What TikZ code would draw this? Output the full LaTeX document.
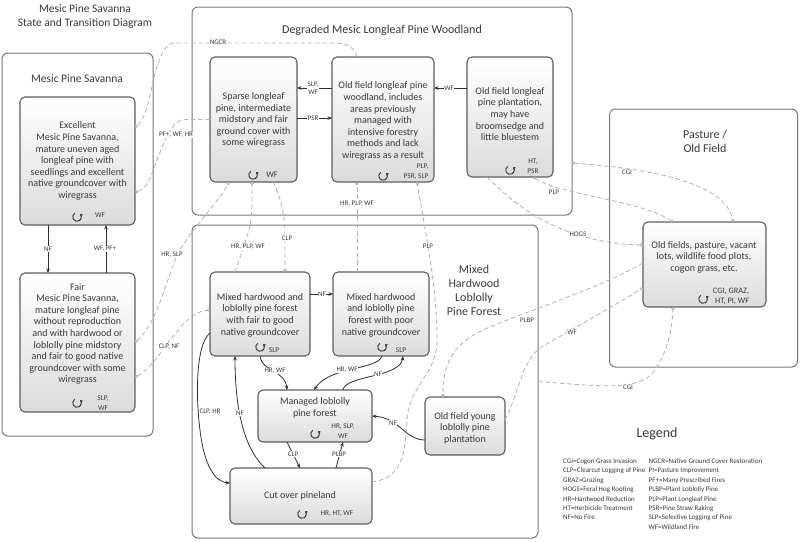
\documentclass[tikz,border=0pt]{standalone}
\usepackage{fontspec}
\setmainfont{Carlito}
\usetikzlibrary{arrows.meta,calc}
\definecolor{tx}{HTML}{3A3A3A}
\definecolor{bdr}{HTML}{5E5E5E}
\definecolor{gbd}{HTML}{787878}
\definecolor{dsh}{HTML}{B4B4B4}
\definecolor{sln}{HTML}{303030}
\begin{document}
\begin{tikzpicture}[x=1pt,y=-1pt,
  grp/.style={draw=gbd,line width=1pt,rounded corners=6pt,inner sep=0pt,outer sep=0pt},
  st/.style={draw=bdr,line width=1.1pt,rounded corners=5pt,inner sep=0pt,outer sep=0pt,top color=white,bottom color=black!14},
  stx/.style={align=center,text=tx,inner sep=0pt,font=\fontsize{10}{11.6}\selectfont},
  ttl/.style={align=center,text=tx,inner sep=0pt,font=\fontsize{11.5}{13.8}\selectfont},
  lbl/.style={fill=white,text=tx,inner sep=0.6pt,align=center,font=\fontsize{7}{7.8}\selectfont},
  llb/.style={text=tx,inner sep=0pt,align=center,font=\fontsize{7.3}{10.5}\selectfont},
  leg/.style={text=tx,inner sep=0pt,align=left,font=\fontsize{7}{9.4}\selectfont},
  dl/.style={draw=dsh,line width=0.85pt,dash pattern=on 4.5pt off 2.8pt,-{Circle[open,length=3.2pt,width=3.2pt]}},
  dlb/.style={draw=dsh,line width=0.85pt,dash pattern=on 4.5pt off 2.8pt,{Circle[open,length=3.2pt,width=3.2pt]}-{Circle[open,length=3.2pt,width=3.2pt]}},
  sl/.style={draw=sln,line width=0.8pt,-{Stealth[length=4.5pt,width=3.6pt]}},
  loopic/.pic={\draw[sln,line width=0.9pt,-{Stealth[length=3pt,width=3.4pt]}] (120:4.3pt) arc[start angle=120,end angle=405,radius=4.3pt];}
]
\useasboundingbox (0,0) rectangle (800,541);
% groups
\node[grp,minimum width=151,minimum height=383] (gmps) at (77.5,244.5) {};
\node[grp,minimum width=380,minimum height=208] (gdeg) at (382,111) {};
\node[grp,minimum width=346,minimum height=313] (gmix) at (365,381.5) {};
\node[grp,minimum width=188,minimum height=258] (gpas) at (703.5,238) {};
% titles
\node[ttl] (title) at (85,16.5) {Mesic Pine Savanna\\State and Transition Diagram};
\node[ttl] (tmps) at (77,79) {Mesic Pine Savanna};
\node[ttl,font=\fontsize{12}{14}\selectfont] (tdeg) at (382,30) {Degraded Mesic Longleaf Pine Woodland};
\node[ttl,font=\fontsize{12}{14}\selectfont] (tmix) at (474,290) {Mixed\\Hardwood\\Loblolly\\Pine Forest};
\node[ttl,font=\fontsize{12}{14}\selectfont] (tpas) at (705,141) {Pasture /\\Old Field};
\node[ttl,font=\fontsize{14}{16}\selectfont] (tleg) at (657,434) {Legend};
% states
\node[st,minimum width=115,minimum height=128] (ex) at (77.5,161) {};
\node[st,minimum width=115,minimum height=139] (fair) at (77.5,342.5) {};
\node[st,minimum width=87,minimum height=125] (sp) at (253.5,119.5) {};
\node[st,minimum width=102,minimum height=125] (wd) at (383,119.5) {};
\node[st,minimum width=86,minimum height=120] (pl) at (510,117) {};
\node[st,minimum width=100,minimum height=84] (mf) at (260,314) {};
\node[st,minimum width=96,minimum height=84] (mp) at (381,314) {};
\node[st,minimum width=114,minimum height=52] (mg) at (315,416) {};
\node[st,minimum width=80,minimum height=58] (yl) at (465,426) {};
\node[st,minimum width=142,minimum height=56] (co) at (301,496) {};
\node[st,minimum width=123,minimum height=85] (pa) at (704.5,264.5) {};
% state texts
\node[stx] (exT) at (77.5,161) {Excellent\\Mesic Pine Savanna,\\mature uneven aged\\longleaf pine with\\seedlings and excellent\\native groundcover with\\wiregrass};
\node[stx] (fairT) at (77.5,334) {Fair\\Mesic Pine Savanna,\\mature longleaf pine\\without reproduction\\and with hardwood or\\loblolly pine midstory\\and fair to good native\\groundcover with some\\wiregrass};
\node[stx] (spT) at (253.5,120) {Sparse longleaf\\pine, intermediate\\midstory and fair\\ground cover with\\some wiregrass};
\node[stx] (wdT) at (383,121) {Old field longleaf pine\\woodland, includes\\areas previously\\managed with\\intensive forestry\\methods and lack\\wiregrass as a result};
\node[stx] (plT) at (510,114) {Old field longleaf\\pine plantation,\\may have\\broomsedge and\\little bluestem};
\node[stx] (mfT) at (260,315) {Mixed hardwood and\\loblolly pine forest\\with fair to good\\native groundcover};
\node[stx] (mpT) at (381,315) {Mixed hardwood\\and loblolly pine\\forest with poor\\native groundcover};
\node[stx] (mgT) at (315,408) {Managed loblolly\\pine forest};
\node[stx] (ylT) at (465,428) {Old field young\\loblolly pine\\plantation};
\node[stx] (coT) at (300,496) {Cut over pineland};
\node[stx] (paT) at (704,257) {Old fields, pasture, vacant\\lots, wildlife food plots,\\cogon grass, etc.};
% self loops
\pic (lex) at (77,217) {loopic};
\pic (lfa) at (77,403) {loopic};
\pic (lsp) at (253,175) {loopic};
\pic (lwd) at (383,176) {loopic};
\pic (lpl) at (510,170) {loopic};
\pic (lmf) at (260,347) {loopic};
\pic (lmp) at (382,347) {loopic};
\pic (lmg) at (315,434) {loopic};
\pic (lco) at (302,514) {loopic};
\pic (lpa) at (703,299) {loopic};
\node[llb] (exL) at (100,215) {WF};
\node[llb] (faL) at (103,403) {SLP,\\WF};
\node[llb,font=\fontsize{8.5}{9}\selectfont] (spL) at (272,175) {WF};
\node[llb,align=right] (wdL) at (416,171.5) {PLP,\\PSR, SLP};
\node[llb] (plL) at (533,166) {HT,\\PSR};
\node[llb] (mfL) at (274,350) {SLP};
\node[llb] (mpL) at (401,350) {SLP};
\node[llb] (mgL) at (343,431) {HR, SLP,\\WF};
\node[llb] (coL) at (337,514) {HR, HT, WF};
\node[llb,align=right,font=\fontsize{8.3}{10}\selectfont] (paL) at (731,296) {CGI, GRAZ,\\HT, PI, WF};
% dashed transitions
\draw[dl] ([xshift=-26pt]wd.north) .. controls (354,45) and (345,43) .. (330,43) -- (175,43) .. controls (152,43) and (153,115) .. ([yshift=34pt]ex.east);
\draw[dl] (sp.west) -- (185,119.5) .. controls (172,119.5) and (165,140) .. (157,160) .. controls (150,180) and (145,190) .. ([yshift=-31pt]ex.east);
\draw[dlb] (fair.east) .. controls (160,320) and (168,270) .. (180,250) .. controls (195,225) and (220,200) .. ([xshift=-24.5pt]sp.south);
\draw[dlb] ([yshift=-34.5pt]fair.east) .. controls (160,365) and (180,312) .. ([yshift=4pt]mf.west);
\draw[dl] ([xshift=19.5pt]sp.south) .. controls (280,195) and (285,215) .. (285,235) -- ([xshift=25pt]mf.north);
\draw[dl] ([xshift=-25pt]mf.north) .. controls (242,250) and (252,230) .. (252,205) -- ([xshift=-1.5pt]sp.south);
\draw[dl] ([xshift=-24pt]mp.north) -- ([xshift=-26pt]wd.south);
\draw[dl] ([yshift=14pt]co.east) .. controls (400,478) and (405,460) .. (407,420) .. controls (409,385) and (437,375) .. (437,340) .. controls (437,285) and (425,230) .. ([xshift=34pt]wd.south);
\draw[dlb] ([yshift=-52pt]gdeg.east) .. controls (640,168) and (725,180) .. ([xshift=28.5pt]pa.north);
\draw[dlb] ([xshift=23pt]pl.south) .. controls (560,195) and (640,200) .. ([xshift=-31.5pt]pa.north);
\draw[dl] ([xshift=-23pt]pl.south) .. controls (515,205) and (560,243) .. ([yshift=19.5pt]pa.west);
\draw[dl] ([yshift=1.5pt]pa.west) .. controls (595,290) and (530,310) .. (495,325) .. controls (455,340) and (443,360) .. ([xshift=-22pt]yl.north);
\draw[dl] ([yshift=6pt]yl.east) .. controls (520,390) and (522,357) .. (545,345) .. controls (580,325) and (615,305) .. ([yshift=-23.5pt]pa.west);
\draw[dl] (gmix.east) .. controls (600,386) and (640,392) .. (655,370) .. controls (668,350) and (672,330) .. ([xshift=-31.5pt]pa.south);
% solid transitions
\draw[sl] ([xshift=-29.5pt]ex.south) -- ([xshift=-29.5pt]fair.north);
\draw[sl] ([xshift=28.5pt]fair.north) -- ([xshift=28.5pt]ex.south);
\draw[sl] ([yshift=31.5pt]wd.west) -- ([yshift=31.5pt]sp.east);
\draw[sl] ([yshift=1.5pt]sp.east) -- ([yshift=1.5pt]wd.west);
\draw[sl] ([yshift=29pt]pl.west) -- ([yshift=31.5pt]wd.east);
\draw[sl] ([yshift=20pt]mf.east) -- ([yshift=20pt]mp.west);
\draw[sl] (mf.south) .. controls (262,372) and (285,370) .. ([xshift=-28pt]mg.north);
\draw[sl] ([xshift=1pt]mp.south) .. controls (378,370) and (330,366) .. ([xshift=-1pt]mg.north);
\draw[sl] ([xshift=28pt]mg.north) .. controls (345,375) and (400,378) .. ([xshift=22pt]mp.south);
\draw[sl] ([yshift=-14pt]yl.west) .. controls (405,440) and (400,418) .. (mg.east);
\draw[sl] ([xshift=-28pt]mg.south) -- ([xshift=-1pt]co.north);
\draw[sl] ([xshift=35pt]co.north) -- ([xshift=28pt]mg.south);
\draw[sl] ([yshift=-19pt]mf.west) .. controls (195,345) and (196,400) .. (200,430) .. controls (204,465) and (215,482) .. ([yshift=13pt]co.west);
\draw[sl] ([xshift=-36pt]co.north) .. controls (248,452) and (235,420) .. ([xshift=-25pt]mf.south);
% connector labels
\node[lbl] (l1) at (218,42) {NGCR};
\node[lbl] (l2) at (176,135) {PF+, WF, HR};
\node[lbl] (l3) at (172,255) {HR, SLP};
\node[lbl] (l4) at (169,347) {CLP, NF};
\node[lbl] (l5) at (287,238) {CLP};
\node[lbl] (l6) at (248,247) {HR, PLP, WF};
\node[lbl] (l7) at (357,204) {HR, PLP, WF};
\node[lbl] (l8) at (428,246) {PLP};
\node[lbl] (l9) at (627,172) {CGI};
\node[lbl] (l10) at (554,192) {PLP};
\node[lbl] (l11) at (578,234) {HOGS};
\node[lbl] (l12) at (527,320) {PLBP};
\node[lbl] (l13) at (572,332) {WF};
\node[lbl] (l14) at (628,387) {CGI};
\node[lbl] (l15) at (48,249) {NF};
\node[lbl] (l16) at (105,249) {WF, PF+};
\node[lbl] (l17) at (313,88) {SLP,\\WF};
\node[lbl] (l18) at (313,118) {PSR};
\node[lbl] (l19) at (449,88) {WF};
\node[lbl] (l20) at (322,294) {NF};
\node[lbl] (l21) at (275,371) {HR, WF};
\node[lbl] (l22) at (347,370) {HR, WF};
\node[lbl] (l23) at (378,374) {NF};
\node[lbl] (l24) at (393,423) {NF};
\node[lbl] (l25) at (293,454) {CLP};
\node[lbl] (l26) at (339,454) {PLBP};
\node[lbl] (l27) at (210,412) {CLP, HR};
\node[lbl] (l28) at (240,413) {NF};
% legend
\node[leg,anchor=north west] (leg1) at (563,458.5) {CGI=Cogon Grass Invasion\\CLP=Clearcut Logging of Pine\\GRAZ=Grazing\\HOGS=Feral Hog Rooting\\HR=Hardwood Reduction\\HT=Herbicide Treatment\\NF=No Fire};
\node[leg,anchor=north west] (leg2) at (648.5,458.5) {NGCR=Native Ground Cover Restoration\\PI=Pasture Improvement\\PF+=Many Prescribed Fires\\PLBP=Plant Loblolly Pine\\PLP=Plant Longleaf Pine\\PSR=Pine Straw Raking\\SLP=Selective Logging of Pine\\WF=Wildland Fire};
\end{tikzpicture}
\end{document}
